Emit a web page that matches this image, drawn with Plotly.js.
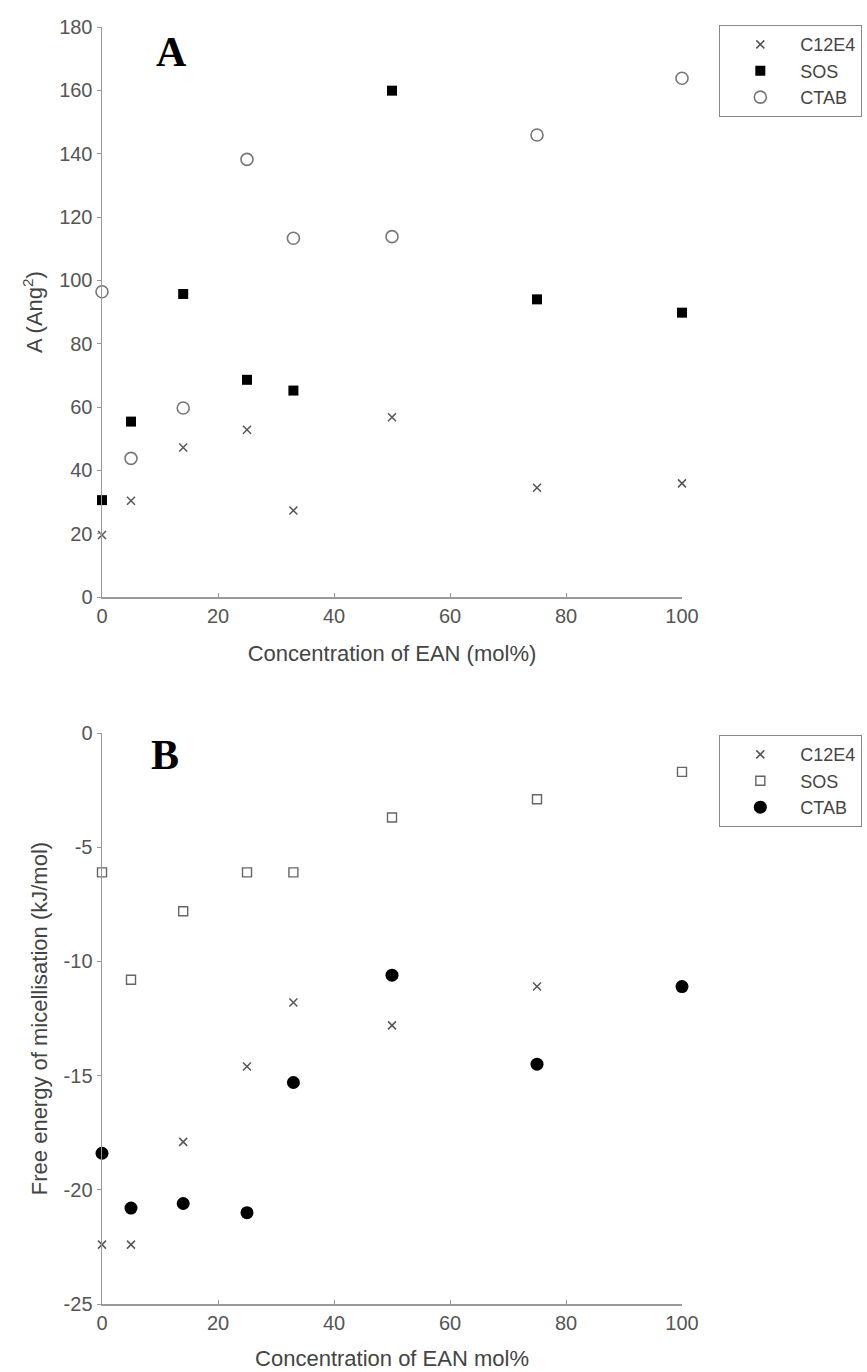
<!DOCTYPE html>
<html>
<head>
<meta charset="utf-8">
<script src="https://cdn.plot.ly/plotly-3.0.1.min.js"></script>
<style>html,body{margin:0;padding:0;background:#fff;}#chart{width:867px;height:1372px;}</style>
</head>
<body>
<div id="chart"></div>
<script>
// Concentration of EAN (mol%)
const concA = [0, 5, 14, 25, 33, 50, 75, 100];
// Panel A: area per molecule A (Ang^2)
const areaC12E4 = [19.6, 30.4, 47.2, 52.8, 27.3, 56.8, 34.5, 35.9];
const areaSOS   = [30.6, 55.4, 95.7, 68.6, 65.2, 159.9, 94.0, 89.8];
const areaCTAB  = [96.4, 43.8, 59.7, 138.2, 113.3, 113.8, 145.9, 163.8];
// Panel B: free energy of micellisation (kJ/mol)
const concBC12E4 = [0, 5, 14, 25, 33, 50, 75];
const gC12E4 = [-22.4, -22.4, -17.9, -14.6, -11.8, -12.8, -11.1];
const gSOS   = [-6.1, -10.8, -7.8, -6.1, -6.1, -3.7, -2.9, -1.7];
const gCTAB  = [-18.4, -20.8, -20.6, -21.0, -15.3, -10.6, -14.5, -11.1];
// Axis ticks
const xTicks = [0, 20, 40, 60, 80, 100];
const yTicksA = [0, 20, 40, 60, 80, 100, 120, 140, 160, 180];
const yTicksB = [0, -5, -10, -15, -20, -25];
const yTickTextB = ['0', '-5', '-10', '-15', '-20', '-25'];

const traces = [
  {x: concA, y: areaC12E4, name: 'C12E4', type: 'scatter', mode: 'markers', xaxis: 'x', yaxis: 'y', legend: 'legend', cliponaxis: false,
   marker: {symbol: 'x-thin', size: 8, color: '#555', line: {width: 1.5, color: '#555'}}},
  {x: concA, y: areaSOS, name: 'SOS', type: 'scatter', mode: 'markers', xaxis: 'x', yaxis: 'y', legend: 'legend', cliponaxis: false,
   marker: {symbol: 'square', size: 10, color: '#000'}},
  {x: concA, y: areaCTAB, name: 'CTAB', type: 'scatter', mode: 'markers', xaxis: 'x', yaxis: 'y', legend: 'legend', cliponaxis: false,
   marker: {symbol: 'circle-open', size: 12, color: '#777', line: {width: 1.6, color: '#777'}}},
  {x: concBC12E4, y: gC12E4, name: 'C12E4', type: 'scatter', mode: 'markers', xaxis: 'x2', yaxis: 'y2', legend: 'legend2', cliponaxis: false,
   marker: {symbol: 'x-thin', size: 8, color: '#555', line: {width: 1.5, color: '#555'}}},
  {x: concA, y: gSOS, name: 'SOS', type: 'scatter', mode: 'markers', xaxis: 'x2', yaxis: 'y2', legend: 'legend2', cliponaxis: false,
   marker: {symbol: 'square-open', size: 9, color: '#666', line: {width: 1.4, color: '#666'}}},
  {x: concA, y: gCTAB, name: 'CTAB', type: 'scatter', mode: 'markers', xaxis: 'x2', yaxis: 'y2', legend: 'legend2', cliponaxis: false,
   marker: {symbol: 'circle', size: 13, color: '#000'}}
];

const tickFont = {family: 'Liberation Sans, Arial, sans-serif', size: 20, color: '#555'};
const titleFont = {family: 'Liberation Sans, Arial, sans-serif', size: 22, color: '#444'};
const axisLine = {showline: true, linecolor: '#999', linewidth: 1.5, showgrid: false, zeroline: false, mirror: false};

const legendStyle = {
  xanchor: 'left', yanchor: 'top', bgcolor: '#fff', bordercolor: '#888', borderwidth: 1.2,
  font: {family: 'Liberation Sans, Arial, sans-serif', size: 18, color: '#444'}, itemwidth: 70
};

const layout = {
  width: 867, height: 1372,
  margin: {l: 101.5, r: 185.3, t: 27, b: 68, autoexpand: false},
  paper_bgcolor: '#fff', plot_bgcolor: '#fff',
  showlegend: true,
  xaxis: Object.assign({}, axisLine, {domain: [0, 1], anchor: 'y', range: [0, 100], tickvals: xTicks,
    ticks: 'inside', ticklen: 4, tickcolor: '#999', tickfont: tickFont,
    title: {text: 'Concentration of EAN (mol%)', font: titleFont, standoff: 20}}),
  yaxis: Object.assign({}, axisLine, {domain: [0.5536, 1], anchor: 'x', range: [0, 180], tickvals: yTicksA,
    ticks: 'outside', ticklen: 4, tickcolor: '#999', tickfont: tickFont,
    title: {text: 'A (Ang<sup>2</sup>)', font: titleFont, standoff: 10}}),
  xaxis2: Object.assign({}, axisLine, {domain: [0, 1], anchor: 'y2', range: [0, 100], tickvals: xTicks,
    ticks: 'inside', ticklen: 4, tickcolor: '#999', tickfont: tickFont,
    title: {text: 'Concentration of EAN mol%', font: titleFont, standoff: 18}}),
  yaxis2: Object.assign({}, axisLine, {domain: [0, 0.4471], anchor: 'x2', range: [-25, 0], tickvals: yTicksB, ticktext: yTickTextB,
    ticks: 'outside', ticklen: 4, tickcolor: '#999', tickfont: tickFont,
    title: {text: 'Free energy of micellisation (kJ/mol)', font: titleFont, standoff: 10}}),
  legend: Object.assign({}, legendStyle, {x: 1.064, y: 1.0016}),
  legend2: Object.assign({}, legendStyle, {x: 1.064, y: 0.4456}),
  annotations: [
    {text: '<b>A</b>', xref: 'paper', yref: 'paper', x: 0.1198, y: 0.9804, xanchor: 'center', yanchor: 'middle', showarrow: false,
     font: {family: 'Liberation Serif, Times New Roman, serif', size: 42, color: '#000'}},
    {text: '<b>B</b>', xref: 'paper', yref: 'paper', x: 0.1094, y: 0.4299, xanchor: 'center', yanchor: 'middle', showarrow: false,
     font: {family: 'Liberation Serif, Times New Roman, serif', size: 42, color: '#000'}}
  ]
};

Plotly.newPlot('chart', traces, layout, {displayModeBar: false, staticPlot: true});
</script>
</body>
</html>
